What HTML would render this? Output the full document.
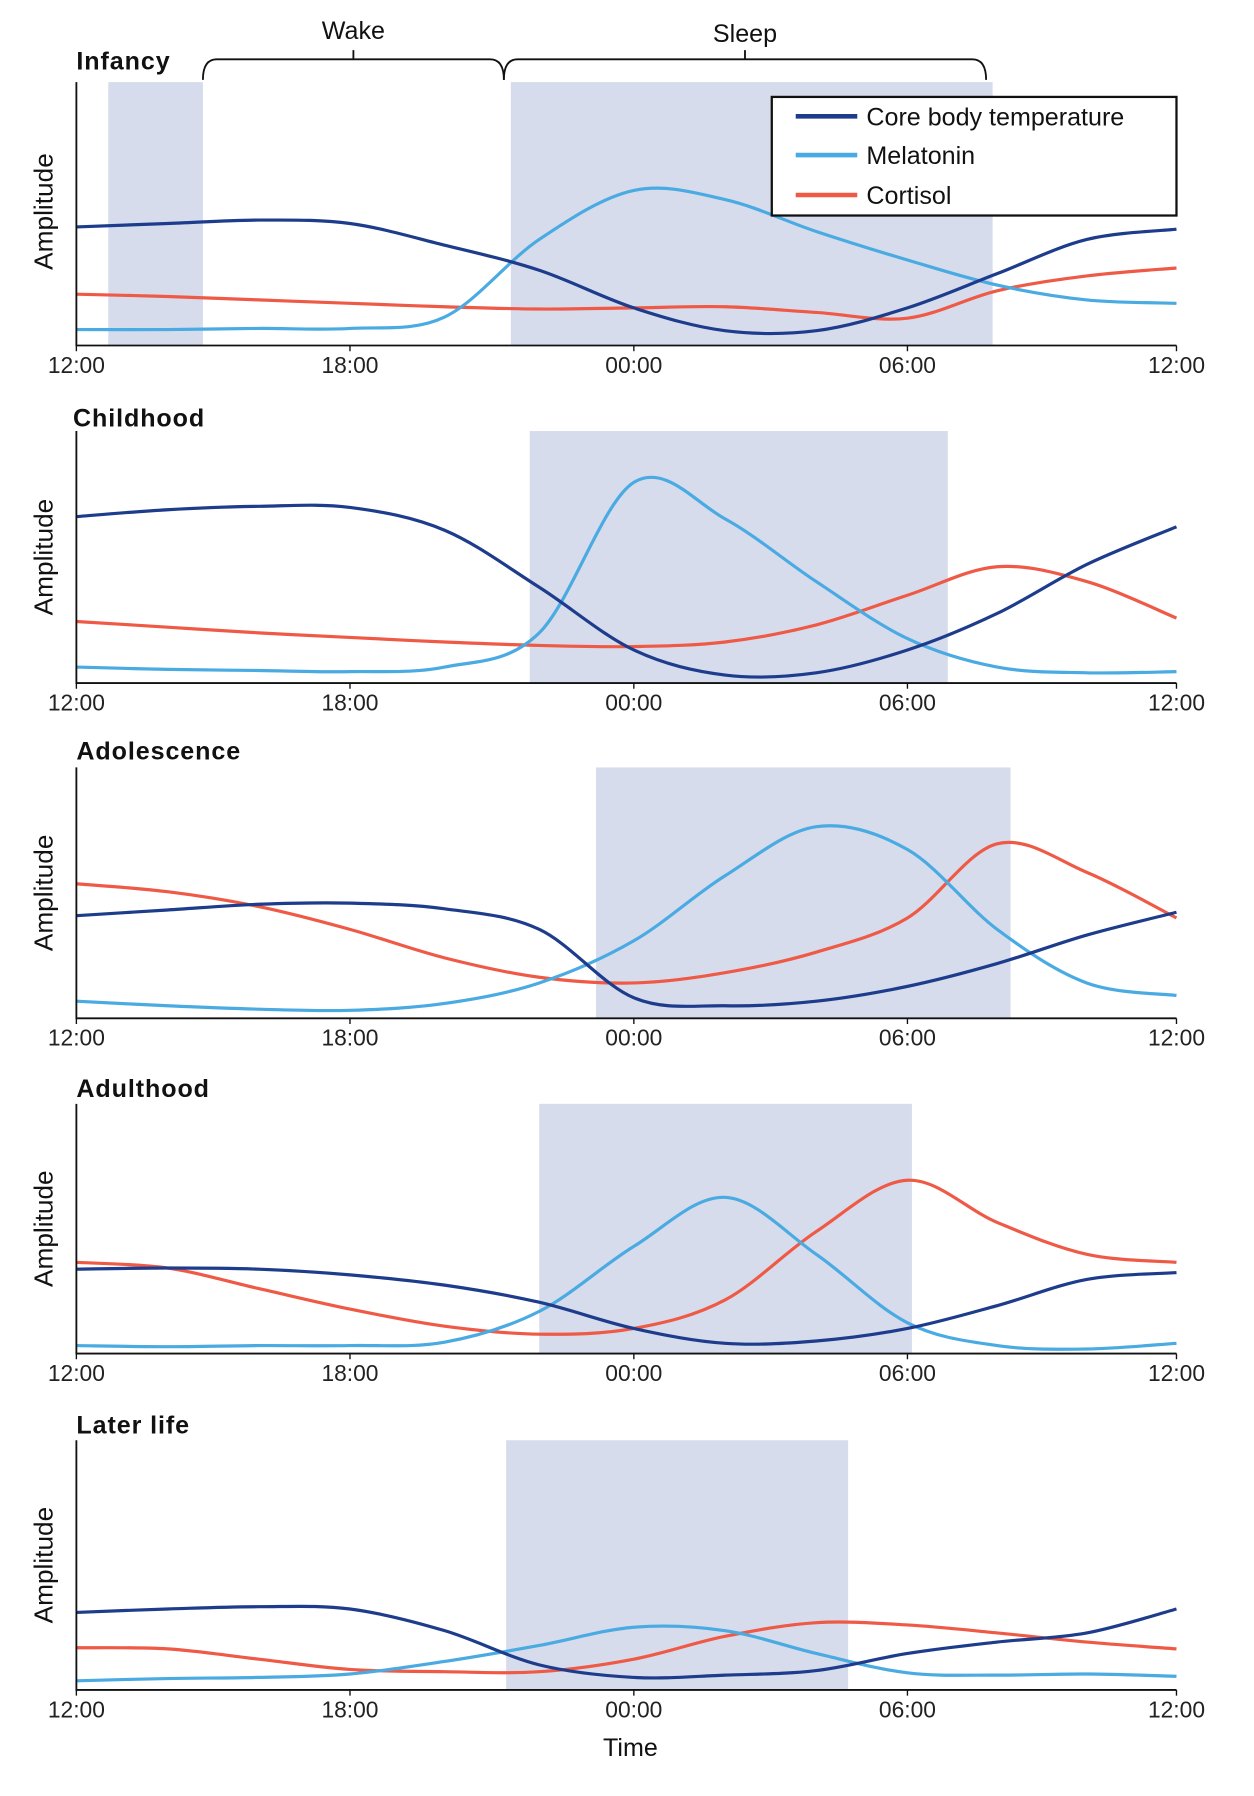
<!DOCTYPE html>
<html><head><meta charset="utf-8">
<style>
html,body{margin:0;padding:0;background:#fff;}
svg{display:block;font-family:"Liberation Sans",sans-serif;}
</style></head>
<body>
<svg id="chart" width="1254" height="1796" viewBox="0 0 1100 1575" preserveAspectRatio="none" xmlns="http://www.w3.org/2000/svg"></svg>
<script>
const hours = [0,2,4,6,8,10,12,14,16,18,20,22,24];
const tickLabels = ["12:00","18:00","00:00","06:00","12:00"];
const tickHours = [0,6,12,18,24];
const panelTitles = ["Infancy","Childhood","Adolescence","Adulthood","Later life"];
const sleepStart = [9.4,9.8,11.2,10.0,9.3];
const sleepEnd = [19.9,18.9,20.3,18.1,16.7];
const coreTemp = [
 [104,107,110,107,88,66,33,13,13,33,63,93,102],
 [146,152,155,154,134,84,29,7,9,29,61,104,137],
 [90,95,100,101,96,78,18,11,15,28,48,73,93],
 [74,75,74,69,60,45,22,9,11,22,42,65,71],
 [68,71,73,71,52,22,11,13,17,32,42,50,71]];
const melatonin = [
 [14,14,15,15,25,93,136,128,100,75,53,40,37],
 [14,12,11,10,14,44,176,144,89,39,14,9,10],
 [15,11,8,7,13,31,68,125,168,148,78,31,20],
 [7,6,7,7,10,37,94,137,87,27,7,4,9],
 [8,10,11,14,25,39,55,52,32,15,13,14,12]];
const cortisol = [
 [45,43,40,37,34,32,33,34,29,24,48,61,68],
 [54,49,44,40,36,33,32,36,51,77,102,89,57],
 [118,111,98,78,53,36,31,40,58,88,153,128,88],
 [80,75,57,39,24,17,22,47,107,152,115,87,80],
 [37,36,27,18,16,16,27,47,59,57,50,42,36]];

const NS="http://www.w3.org/2000/svg";
const svg=document.getElementById('chart');
const X0=67, X1=1032;
const knotX=[67,307,556,796,1032];
const tops=[72,378,673,968,1263], bottoms=[303,599,893,1187,1482], titleY=[61,374,666,962,1257];
function xs(h){const i=Math.min(3,Math.max(0,Math.floor(h/6)));const f=(h-i*6)/6;return knotX[i]+(knotX[i+1]-knotX[i])*f;}
function mk(tag,attrs,parent){const e=document.createElementNS(NS,tag);for(const k in attrs)e.setAttribute(k,attrs[k]);(parent||svg).appendChild(e);return e;}
function smooth(pts){let d=`M${pts[0][0]},${pts[0][1]}`;for(let i=0;i<pts.length-1;i++){const p0=pts[Math.max(0,i-1)],p1=pts[i],p2=pts[i+1],p3=pts[Math.min(pts.length-1,i+2)];const c1=[p1[0]+(p2[0]-p0[0])/6,p1[1]+(p2[1]-p0[1])/6],c2=[p2[0]-(p3[0]-p1[0])/6,p2[1]-(p3[1]-p1[1])/6];d+=` C${c1[0]},${c1[1]} ${c2[0]},${c2[1]} ${p2[0]},${p2[1]}`;}return d;}
const colors={core:"#1d3c8c",mel:"#4aaae2",cort:"#ef5a46"};

for(let p=0;p<5;p++){
 const g=mk('g',{});
 
 
 const T=tops[p],B=bottoms[p],ys=a=>B-a;
 if(p===0){const s=mk('rect',{x:95,y:T,width:83,height:B-T,fill:"#d6dcec"},g);
  
  }
 const sh=mk('rect',{x:xs(sleepStart[p]),y:T,width:xs(sleepEnd[p])-xs(sleepStart[p]),height:B-T,fill:"#d6dcec"},g);
 
 
 const series=[["cort",cortisol],["mel",melatonin],["core",coreTemp]];
 for(const [k,arr] of series){
  const pts=hours.map((h,i)=>[xs(h),ys(arr[p][i])]);
  const path=mk('path',{d:smooth(pts),fill:"none",stroke:colors[k],"stroke-width":2.8},g);
  
  
 }
 const ax=mk('path',{d:`M${X0},${T} V${B} H${X1}`,fill:"none",stroke:"#111","stroke-width":1.6},g);
 
 
 tickHours.forEach((h,i)=>{
  const t=mk('line',{x1:xs(h),x2:xs(h),y1:B,y2:B+5,stroke:"#111","stroke-width":1.2},g);
  
  
  const l=mk('text',{x:xs(h),y:B+24,"font-size":20,"text-anchor":"middle",fill:"#222"},g);
  l.textContent=tickLabels[i];
  
  
 });
 const tt=mk('text',{x:p===1?64:67,y:titleY[p],"font-size":22,fill:"#111","letter-spacing":"0.8","font-weight":"bold"},g);
 tt.textContent=panelTitles[p];
 
 
 const cy=(T+B)/2+ (p===0?-2:0);
 const yl=mk('text',{x:46,y:cy,"font-size":23,"text-anchor":"middle",fill:"#111",transform:`rotate(-90 46 ${cy})`},g);
 yl.textContent="Amplitude";
 
 
}
function bracket(x1,x2,label,ly){
 const m=(x1+x2)/2;
 const b=mk('path',{d:`M${x1},70 Q${x1},52 ${x1+12},52 H${x2-12} Q${x2},52 ${x2},70 M${m},52 V44`,fill:"none",stroke:"#111","stroke-width":1.6});
 
 
 const t=mk('text',{x:m,y:ly,"font-size":22,"text-anchor":"middle",fill:"#111"});
 t.textContent=label;
 
 
}
bracket(178,442,"Wake",34);bracket(442,865,"Sleep",37);
const lg=mk('g',{});


mk('rect',{x:677,y:85,width:355,height:104,fill:"#fff",stroke:"#111","stroke-width":2},lg);
[["Core body temperature",colors.core,102],["Melatonin",colors.mel,136],["Cortisol",colors.cort,171]].forEach(([n,c,y])=>{
 const e=mk('g',{},lg);
 
 
 mk('line',{x1:698,x2:752,y1:y,y2:y,stroke:c,"stroke-width":4},e);
 const t=mk('text',{x:760,y:y+8,"font-size":22,fill:"#111"},e);t.textContent=n;
});
const xt=mk('text',{x:553,y:1540,"font-size":22,"text-anchor":"middle",fill:"#111"});
xt.textContent="Time";


</script>
</body></html>
